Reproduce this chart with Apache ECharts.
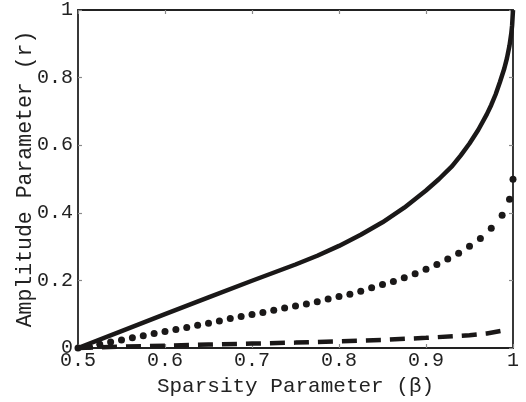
<!DOCTYPE html>
<html>
<head>
<meta charset="utf-8">
<script src="https://cdn.jsdelivr.net/npm/echarts@6/dist/echarts.min.js"></script>
<style>
html,body{margin:0;padding:0;background:#fff;}
#chart{width:526px;height:402px;}
</style>
</head>
<body>
<div id="chart"></div>
<script>
// Solid curve (x = sparsity beta, y = amplitude r)
const solidX = [0.5, 0.55, 0.6, 0.65, 0.7, 0.75, 0.775, 0.8, 0.825, 0.85, 0.875, 0.9, 0.915, 0.93, 0.94, 0.95, 0.96, 0.97, 0.975, 0.98, 0.985, 0.99, 0.993, 0.996, 0.998, 0.999, 1.0];
const solidY = [0, 0.05, 0.10, 0.15, 0.199, 0.247, 0.273, 0.302, 0.335, 0.372, 0.415, 0.466, 0.500, 0.538, 0.570, 0.605, 0.645, 0.692, 0.719, 0.75, 0.787, 0.827, 0.857, 0.895, 0.93, 0.955, 1.0];

// Dotted curve (markers)
const dotX = [0.5, 0.5125, 0.525, 0.5375, 0.55, 0.5625, 0.575, 0.5875, 0.6, 0.6125, 0.625, 0.6375, 0.65, 0.6625, 0.675, 0.6875, 0.7, 0.7125, 0.725, 0.7375, 0.75, 0.7625, 0.775, 0.7875, 0.8, 0.8125, 0.825, 0.8375, 0.85, 0.8625, 0.875, 0.8875, 0.9, 0.9125, 0.925, 0.9375, 0.95, 0.9625, 0.975, 0.9875, 0.996, 1.0];
const dotY = [0, 0.005, 0.011, 0.018, 0.024, 0.030, 0.036, 0.043, 0.049, 0.055, 0.061, 0.067, 0.073, 0.080, 0.087, 0.093, 0.099, 0.105, 0.112, 0.118, 0.124, 0.130, 0.137, 0.145, 0.152, 0.159, 0.168, 0.178, 0.188, 0.197, 0.208, 0.220, 0.233, 0.247, 0.263, 0.280, 0.301, 0.324, 0.354, 0.393, 0.440, 0.499];

// Dashed curve
const dashX = [0.5, 0.55, 0.6, 0.65, 0.7, 0.75, 0.8, 0.85, 0.9, 0.95, 0.97, 0.992];
const dashY = [0, 0.004, 0.007, 0.010, 0.013, 0.016, 0.020, 0.024, 0.030, 0.038, 0.043, 0.053];

const xTicks = ['0.5', '0.6', '0.7', '0.8', '0.9', '1'];
const yTicks = ['0', '0.2', '0.4', '0.6', '0.8', '1'];

const xName = 'Sparsity Parameter (β)';
const yName = 'Amplitude Parameter (r)';

const pairs = (xs, ys) => xs.map((x, i) => [x, ys[i]]);

const FONT = 'Liberation Mono';
const INK = '#1a1818';
const tickStyle = { show: true, inside: true, length: 4, lineStyle: { color: '#8a8a8a', width: 1.2 } };
const axisLine = { show: true, onZero: false, lineStyle: { color: '#222', width: 1.8 } };

const chart = echarts.init(document.getElementById('chart'), null, { renderer: 'canvas' });
chart.setOption({
  backgroundColor: '#fff',
  animation: false,
  grid: { left: 78, right: 13, top: 9, bottom: 48, containLabel: false },
  xAxis: [
    {
      type: 'value', min: 0.5, max: 1, interval: 0.1, position: 'bottom',
      name: xName, nameLocation: 'middle', nameGap: 28,
      nameTextStyle: { fontFamily: FONT, fontSize: 21, color: '#222' },
      axisLine: axisLine, axisTick: tickStyle, splitLine: { show: false },
      axisLabel: { fontFamily: FONT, fontSize: 20, color: '#222', margin: 3,
        formatter: v => xTicks[Math.round((v - 0.5) / 0.1)] }
    },
    {
      type: 'value', min: 0.5, max: 1, interval: 0.1, position: 'top',
      axisLine: axisLine, axisTick: tickStyle, splitLine: { show: false },
      axisLabel: { show: false }
    }
  ],
  yAxis: [
    {
      type: 'value', min: 0, max: 1, interval: 0.2, position: 'left',
      name: yName, nameLocation: 'middle', nameGap: 42, nameMoveOverlap: false,
      nameTextStyle: { fontFamily: FONT, fontSize: 21.5, color: '#222' },
      axisLine: axisLine, axisTick: tickStyle, splitLine: { show: false },
      axisLabel: { fontFamily: FONT, fontSize: 20, color: '#222', margin: 5,
        formatter: v => yTicks[Math.round(v / 0.2)] }
    },
    {
      type: 'value', min: 0, max: 1, interval: 0.2, position: 'right',
      axisLine: axisLine, axisTick: tickStyle, splitLine: { show: false },
      axisLabel: { show: false }
    }
  ],
  series: [
    {
      type: 'line', data: pairs(solidX, solidY), showSymbol: false, symbol: 'none',
      smooth: false, clip: false,
      lineStyle: { color: INK, width: 4.5, join: 'round' }
    },
    {
      type: 'scatter', data: pairs(dotX, dotY), symbol: 'circle', symbolSize: 7, clip: false,
      itemStyle: { color: INK, opacity: 1 }
    },
    {
      type: 'line', data: pairs(dashX, dashY), showSymbol: false, symbol: 'none',
      smooth: false, clip: false,
      lineStyle: { color: INK, width: 4.5, type: [15, 9], cap: 'butt' }
    }
  ]
});
</script>
</body>
</html>
